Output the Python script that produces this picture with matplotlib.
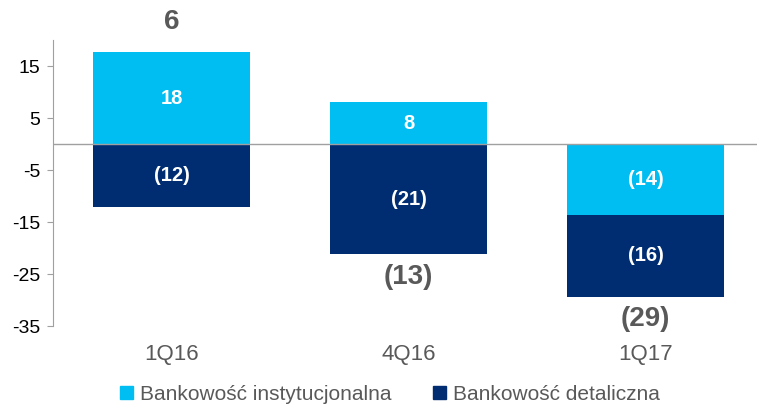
import matplotlib
matplotlib.use("Agg")
import matplotlib.pyplot as plt
from matplotlib.patches import Patch

plt.rcParams['font.family'] = ['Liberation Sans', 'DejaVu Sans']

categories = ["1Q16", "4Q16", "1Q17"]
inst = [17.7, 8.1, -13.6]
det = [-12.1, -21.2, -15.8]
inst_labels = ["18", "8", "(14)"]
det_labels = ["(12)", "(21)", "(16)"]
totals = ["6", "(13)", "(29)"]
yticks = [15, 5, -5, -15, -25, -35]

c_inst = "#00BDF2"
c_det = "#002D72"
gray = "#595959"

fig = plt.figure(figsize=(7.57, 4.05), dpi=100)
ax = fig.add_axes([0.070, 0.195, 0.93, 0.706])

x = list(range(len(categories)))
w = 0.66
lab_fs = 14.5
det_bottom = []
for i in x:
    if inst[i] >= 0:
        ax.bar(i, inst[i], width=w, color=c_inst, zorder=2)
        ax.bar(i, det[i], width=w, color=c_det, zorder=2)
        ax.text(i, inst[i] / 2, inst_labels[i], ha='center', va='center', color='white', fontsize=lab_fs, fontweight='bold')
        ax.text(i, det[i] / 2, det_labels[i], ha='center', va='center', color='white', fontsize=lab_fs, fontweight='bold')
        bottom = det[i]
    else:
        ax.bar(i, inst[i], width=w, color=c_inst, zorder=2)
        ax.bar(i, det[i], width=w, bottom=inst[i], color=c_det, zorder=2)
        ax.text(i, inst[i] / 2, inst_labels[i], ha='center', va='center', color='white', fontsize=lab_fs, fontweight='bold')
        ax.text(i, inst[i] + det[i] / 2, det_labels[i], ha='center', va='center', color='white', fontsize=lab_fs, fontweight='bold')
        bottom = inst[i] + det[i]
    det_bottom.append(bottom)

# totals
ax.text(0, inst[0] + 5.8, totals[0], ha='center', va='center', color=gray, fontsize=20, fontweight='bold', clip_on=False)
for i in (1, 2):
    ax.text(i, det_bottom[i] - 4.3, totals[i], ha='center', va='center', color=gray, fontsize=20, fontweight='bold', clip_on=False)

ax.axhline(0, color='#A0A0A0', lw=1, zorder=3)
ax.set_ylim(-35, 20)
ax.set_xlim(-0.5, 2.47)
ax.set_yticks(yticks)
ax.set_yticklabels([str(v) for v in yticks], fontsize=14, color='black')
ax.set_xticks(x)
ax.set_xticklabels(categories, fontsize=16, color=gray)
ax.tick_params(axis='x', length=0, pad=13)
ax.tick_params(axis='y', length=4, color='#A0A0A0', pad=5)
for s in ['top', 'right', 'bottom']:
    ax.spines[s].set_visible(False)
ax.spines['left'].set_color('#A0A0A0')

handles = [Patch(color=c_inst, label="Bankowość instytucjonalna"),
           Patch(color=c_det, label="Bankowość detaliczna")]
fig.legend(handles=handles, loc='center', bbox_to_anchor=(0.515, 0.027), ncol=2, frameon=False,
           fontsize=15, handlelength=0.6, handleheight=0.6, handletextpad=0.35, columnspacing=2.0,
           labelcolor=gray)

fig.savefig("out.png", dpi=100)
